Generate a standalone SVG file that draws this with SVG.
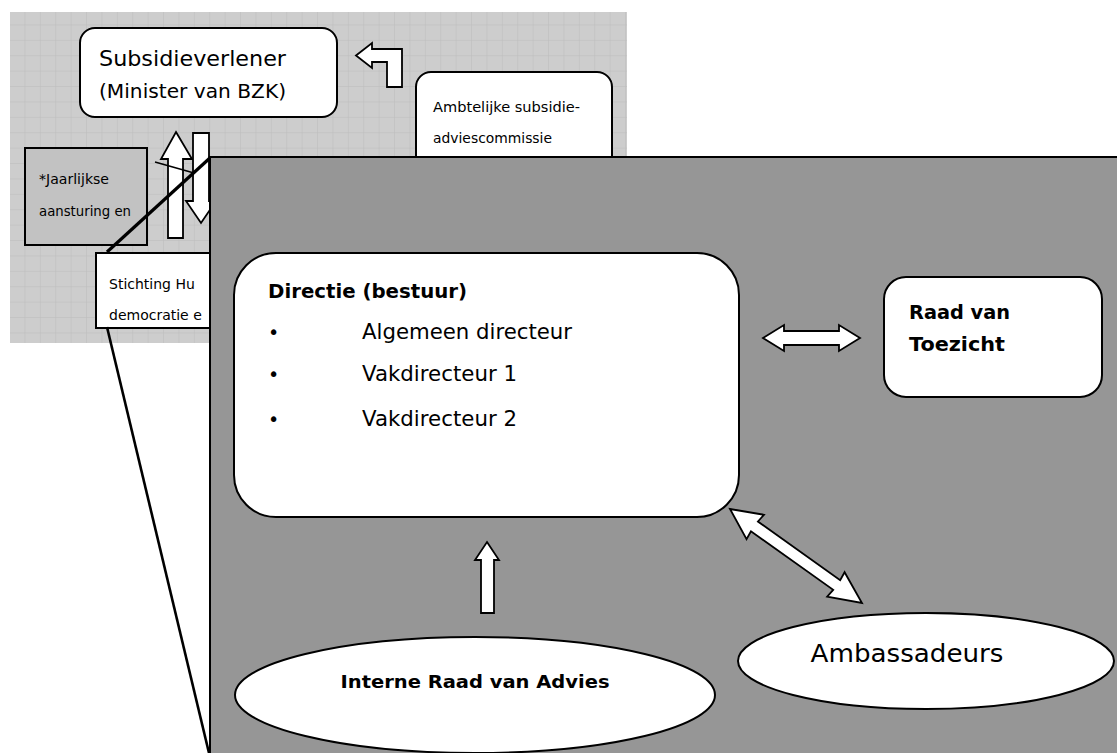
<svg xmlns="http://www.w3.org/2000/svg" width="1117" height="753" viewBox="0 0 1117 753">
<defs>
<pattern id="grid" x="10" y="10" width="15.4" height="15.4" patternUnits="userSpaceOnUse">
<rect width="15.4" height="15.4" fill="#cdcdcd"/>
<path d="M15.4 0V15.4M0 15.4H15.4" stroke="#bcbcbc" stroke-width="1" fill="none"/>
</pattern>
<style>
.box{fill:#fff;stroke:#000;stroke-width:2}
.arr{fill:#fff;stroke:#000;stroke-width:1.8;stroke-linejoin:miter}
.t{font-family:"DejaVu Sans","Liberation Sans",sans-serif;fill:#000}
.b{font-weight:bold}
.ln{stroke:#000;fill:none}
</style>
</defs>
<rect x="10" y="12" width="617" height="331" fill="url(#grid)"/>
<g id="subsidieverlener">
<rect class="box" x="80" y="28" width="257" height="89" rx="15"/>
<text class="t" x="99" y="66" font-size="21" textLength="187" lengthAdjust="spacingAndGlyphs">Subsidieverlener</text>
<text class="t" x="99" y="98" font-size="19" textLength="187" lengthAdjust="spacingAndGlyphs">(Minister van BZK)</text>
</g>
<g id="ambtelijke">
<rect class="box" x="416" y="72" width="196" height="110" rx="15"/>
<text class="t" x="433" y="112" font-size="14" textLength="147" lengthAdjust="spacingAndGlyphs">Ambtelijke subsidie-</text>
<text class="t" x="433" y="143" font-size="14" textLength="119" lengthAdjust="spacingAndGlyphs">adviescommissie</text>
</g>
<g id="jaarlijkse">
<rect x="25" y="148" width="122" height="97" fill="#c2c2c2" stroke="#000" stroke-width="2"/>
<text class="t" x="39" y="184" font-size="13.5" textLength="70" lengthAdjust="spacingAndGlyphs">*Jaarlijkse</text>
<text class="t" x="39" y="216" font-size="13.5" textLength="92" lengthAdjust="spacingAndGlyphs">aansturing en</text>
</g>
<g id="stichting">
<rect class="box" x="96" y="253" width="130" height="75"/>
<text class="t" x="109" y="289" font-size="14">Stichting Hu</text>
<text class="t" x="109" y="320" font-size="14">democratie e</text>
</g>
<g id="connectors-top">
<polygon class="arr" points="356,55.5 372,43 372,49 402,49 402,87 387,87 387,62 372,62 372,68"/>
<polygon class="arr" points="176,132 192,159 183,159 183,238 168,238 168,159 161,159"/>
<line class="ln" x1="155" y1="162" x2="194" y2="173" stroke-width="1.5"/>
<polygon class="arr" points="193,133 209,133 209,201 216,201 201,223 186,201 193,201"/>
<line class="ln" x1="107" y1="252" x2="211" y2="157" stroke-width="3.2"/>
<line class="ln" x1="107" y1="327" x2="209" y2="753" stroke-width="2.6"/>
</g>
<g id="panel">
<rect x="210" y="157" width="920" height="610" fill="#969696" stroke="#000" stroke-width="2"/>
</g>
<g id="directie">
<rect class="box" x="234" y="253" width="505" height="264" rx="42"/>
<text class="t b" x="268" y="298" font-size="20" textLength="199" lengthAdjust="spacingAndGlyphs">Directie (bestuur)</text>
<text class="t" x="268" y="339" font-size="19">•</text>
<text class="t" x="362" y="339" font-size="21" textLength="210" lengthAdjust="spacingAndGlyphs">Algemeen directeur</text>
<text class="t" x="268" y="381" font-size="19">•</text>
<text class="t" x="362" y="381" font-size="21" textLength="155" lengthAdjust="spacingAndGlyphs">Vakdirecteur 1</text>
<text class="t" x="268" y="426" font-size="19">•</text>
<text class="t" x="362" y="426" font-size="21" textLength="155" lengthAdjust="spacingAndGlyphs">Vakdirecteur 2</text>
</g>
<g id="raad-van-toezicht">
<rect class="box" x="884" y="277" width="218" height="120" rx="22"/>
<text class="t b" x="909" y="319" font-size="19" textLength="101" lengthAdjust="spacingAndGlyphs">Raad van</text>
<text class="t b" x="909" y="351" font-size="19" textLength="96" lengthAdjust="spacingAndGlyphs">Toezicht</text>
</g>
<g id="interne-raad">
<ellipse class="box" cx="475" cy="695" rx="240" ry="58"/>
<text class="t b" x="475" y="688" font-size="18" text-anchor="middle" textLength="269" lengthAdjust="spacingAndGlyphs">Interne Raad van Advies</text>
</g>
<g id="ambassadeurs">
<ellipse class="box" cx="926" cy="661" rx="188" ry="48"/>
<text class="t" x="907" y="662" font-size="24" text-anchor="middle" textLength="193" lengthAdjust="spacingAndGlyphs">Ambassadeurs</text>
</g>
<g id="connectors">
<polygon class="arr" points="763,338 784,325 784,331 839,331 839,325 860,338 839,351 839,345 784,345 784,351"/>
<polygon class="arr" points="487,542 499,560 494,560 494,613 481,613 481,560 475,560"/>
<polygon class="arr" transform="translate(730,509) rotate(35.46)" points="0,0 31,-15 30,-6 131,-6 130,-15 162,0 130,15 131,6 30,6 31,15"/>
</g>
</svg>
